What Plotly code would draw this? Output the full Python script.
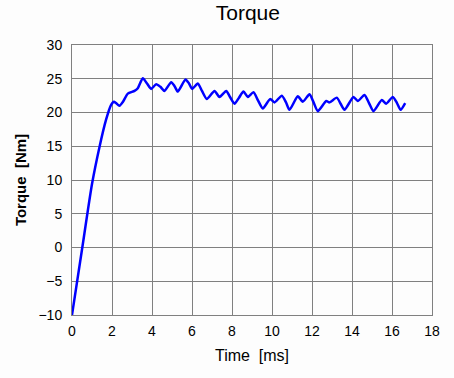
import plotly.graph_objects as go

time_ms = [0, 0.5, 1.0, 1.375, 1.7, 1.95, 2.1, 2.2, 2.375, 2.55, 2.79, 3.125, 3.29, 3.54,
           3.75, 3.96, 4.21, 4.42, 4.625, 4.96, 5.13, 5.29, 5.675, 5.85, 6.01, 6.29, 6.5, 6.74, 7.125,
           7.375, 7.71, 7.9, 8.125, 8.35, 8.575, 8.79, 9.075, 9.3, 9.54, 9.91, 10.125, 10.49, 10.7, 10.875,
           11.29, 11.54, 11.875, 12.08, 12.29, 12.71, 12.875, 13.24, 13.43, 13.625, 14.075, 14.29, 14.625,
           14.85, 15.075, 15.49, 15.71, 16.04, 16.25, 16.43, 16.66]
torque_nm = [-10, -0.3, 9.4, 14.9, 18.9, 21.1, 21.6, 21.4, 21.0, 21.6, 22.8, 23.2, 23.6, 25.07,
             24.3, 23.5, 24.2, 23.8, 23.2, 24.5, 23.9, 23.1, 24.9, 24.3, 23.5, 24.3, 23.2, 22.0, 23.2,
             22.3, 23.2, 22.3, 21.3, 22.2, 23.1, 22.3, 23.0, 21.8, 20.6, 22.0, 21.5, 22.5, 21.5, 20.4,
             22.4, 21.6, 22.7, 21.5, 20.2, 21.7, 21.5, 22.2, 21.3, 20.4, 22.3, 21.7, 22.6, 21.4,
             20.2, 21.85, 21.3, 22.3, 21.4, 20.4, 21.4]

fig = go.Figure()
fig.add_trace(go.Scatter(x=time_ms, y=torque_nm, mode="lines",
                         line=dict(color="#0000ff", width=2.5, shape="spline", smoothing=0.6),
                         showlegend=False, hoverinfo="skip"))

fig.update_layout(
    width=454, height=378,
    margin=dict(l=72, r=22, t=45, b=63),
    paper_bgcolor="#fdfdfd", plot_bgcolor="#fdfdfd",
    font=dict(family="Liberation Sans, Arial, sans-serif", size=14, color="black"),
    title=dict(text="Torque", x=0.546, xanchor="center", y=0.966, yanchor="middle",
               font=dict(size=21, color="black")),
    xaxis=dict(range=[0, 18], dtick=2, tick0=0, showgrid=True, gridcolor="#808080", gridwidth=1,
               zeroline=False, showline=True, linecolor="#808080", linewidth=1, mirror=True,
               ticks="", ticklabelstandoff=3,
               title=dict(text="Time&nbsp;&nbsp;[ms]", font=dict(size=16), standoff=12)),
    yaxis=dict(range=[-10, 30], dtick=5, tick0=-10, showgrid=True, gridcolor="#808080", gridwidth=1,
               zeroline=False, showline=True, linecolor="#808080", linewidth=1, mirror=True,
               ticks="", ticklabelstandoff=6,
               title=dict(text="<b>Torque&nbsp;&nbsp;[Nm]</b>", font=dict(size=15), standoff=8)),
)

fig.write_html("out.html")
